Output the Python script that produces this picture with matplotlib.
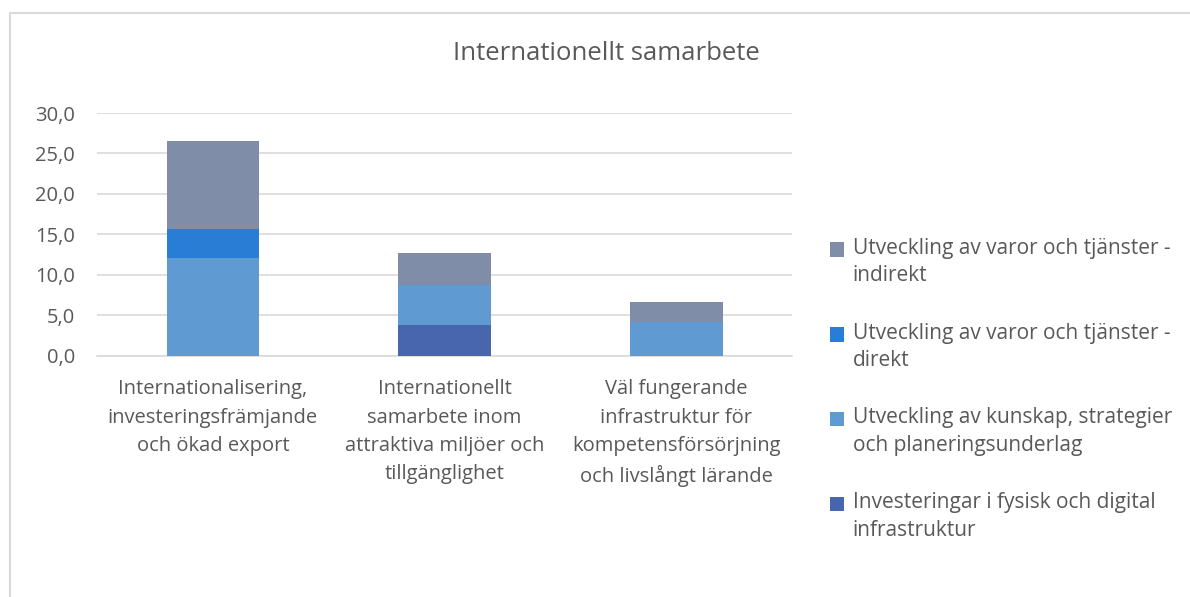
import matplotlib.pyplot as plt
from matplotlib.patches import Rectangle
from matplotlib.legend_handler import HandlerPatch
import numpy as np

plt.rcParams['font.family'] = ['Open Sans', 'DejaVu Sans']

# categories and series values
categories = ["Internationalisering,\ninvesteringsfrämjande\noch ökad export",
              "Internationellt\nsamarbete inom\nattraktiva miljöer och\ntillgänglighet",
              "Väl fungerande\ninfrastruktur för\nkompetensförsörjning\noch livslångt lärande"]
investeringar = [0.0, 3.8, 0.0]
kunskap = [12.1, 5.0, 4.2]
direkt = [3.5, 0.0, 0.0]
indirekt = [11.0, 3.9, 2.4]

series_names = ["Investeringar i fysisk och digital\ninfrastruktur",
                "Utveckling av kunskap, strategier\noch planeringsunderlag",
                "Utveckling av varor och tjänster -\ndirekt",
                "Utveckling av varor och tjänster -\nindirekt"]
colors = ["#4866AD", "#5F9BD2", "#2A7DD5", "#7F8DA8"]
text_col = "#595959"


# legend square next to the first line of a two-line label
class FirstLineHandler(HandlerPatch):
    def create_artists(self, legend, orig_handle, xdescent, ydescent, width, height, fontsize, trans):
        p = Rectangle((-xdescent, -ydescent + 9.5), width, height,
                      facecolor=orig_handle.get_facecolor(), edgecolor='none', transform=trans)
        return [p]


fig = plt.figure(figsize=(11.9, 5.97), dpi=100)
ax = fig.add_axes([97 / 1190, 1 - 355.7 / 597, (792 - 97) / 1190, (355.7 - 113) / 597])

# chart border
fig.patches.append(Rectangle((10 / 1190, -0.1), 1.2, 1 - 13 / 597 + 0.1, transform=fig.transFigure,
                             fill=False, edgecolor="#D9D9D9", linewidth=1.5))

x = np.arange(len(categories))
bottom = np.zeros(len(categories))
handles = []
for vals, name, c in zip([investeringar, kunskap, direkt, indirekt], series_names, colors):
    b = ax.bar(x, vals, width=0.4, bottom=bottom, color=c, label=name, zorder=3)
    handles.append(b.patches[0])
    bottom += np.array(vals)

ax.set_xlim(-0.5, 2.5)
ax.set_ylim(0, 30)
ax.set_yticks(np.arange(0, 31, 5))
ax.set_yticklabels([f"{v:.1f}".replace(".", ",") for v in np.arange(0, 31, 5)])
ax.yaxis.grid(True, color="#D9D9D9", linewidth=1.2, zorder=0)
ax.set_xticks(x)
ax.set_xticklabels(categories, linespacing=1.55)
for s in ax.spines.values():
    s.set_visible(False)
ax.spines['bottom'].set_visible(True)
ax.spines['bottom'].set_color("#D9D9D9")
ax.spines['bottom'].set_linewidth(1.2)
ax.tick_params(axis='both', length=0, colors=text_col, labelsize=14.5)
ax.tick_params(axis='y', pad=16)
ax.tick_params(axis='x', pad=17)

fig.text(606 / 1190, 1 - 53 / 597, "Internationellt samarbete", ha='center', va='center',
         fontsize=18.5, color=text_col)

leg = fig.legend(handles[::-1], series_names[::-1], loc='upper left',
                 bbox_to_anchor=(811 / 1190, 1 - 219 / 597), frameon=False,
                 fontsize=15, labelcolor=text_col, handlelength=0.7, handleheight=0.7,
                 handletextpad=0.4, labelspacing=1.75,
                 handler_map={Rectangle: FirstLineHandler()})
for t in leg.get_texts():
    t.set_linespacing(1.4)

fig.savefig("out.png", dpi=100)
